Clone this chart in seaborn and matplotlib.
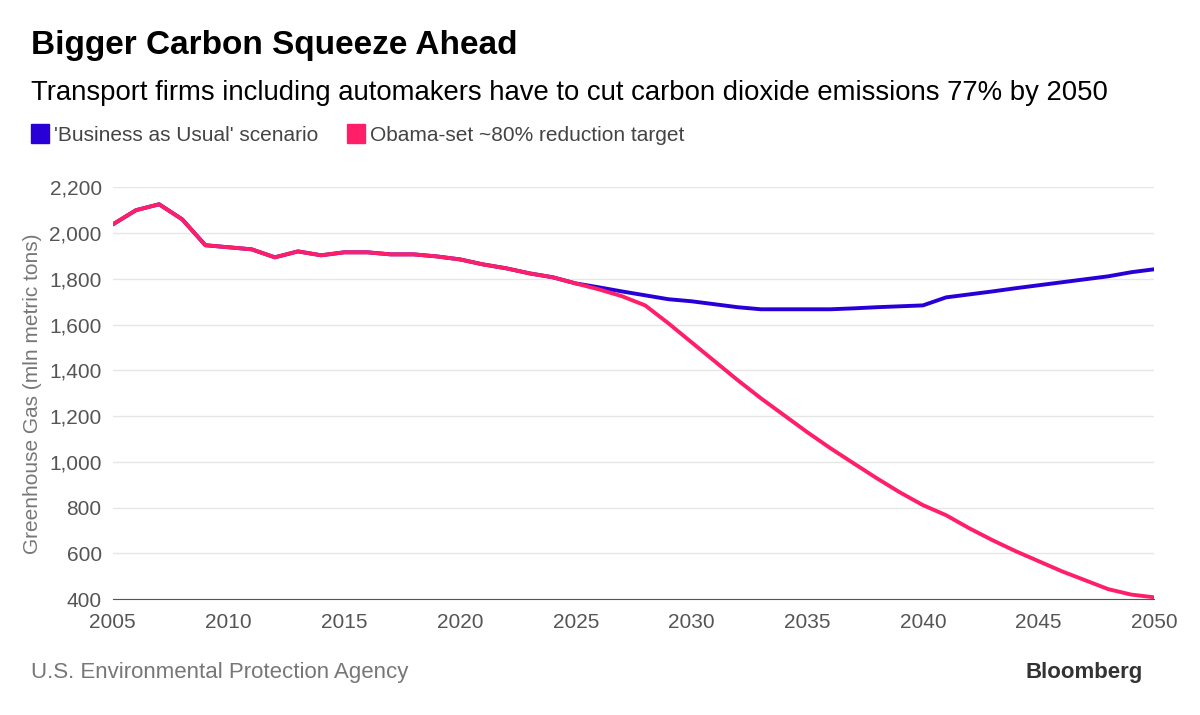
import numpy as np
import pandas as pd
import matplotlib.pyplot as plt
import seaborn as sns

years = list(range(2005, 2051))
history = [2038, 2100, 2126, 2060, 1947, 1938, 1929, 1894, 1920, 1903, 1916, 1916,
           1907, 1907, 1898, 1885, 1863, 1846, 1824, 1807, 1780]
bau_future = [1763, 1745, 1728, 1711, 1702, 1689, 1676, 1667, 1667, 1667, 1667, 1671,
              1676, 1680, 1684, 1719, 1732, 1745, 1759, 1772, 1785, 1798, 1811, 1829, 1842]
obama_future = [1754, 1724, 1684, 1606, 1523, 1440, 1357, 1278, 1204, 1130, 1060, 994,
                929, 867, 811, 767, 710, 658, 610, 566, 522, 483, 444, 420, 408]
series_names = ["'Business as Usual' scenario", "Obama-set ~80% reduction target"]
colors = ["#2800d7", "#ff1f69"]

df = pd.concat([
    pd.DataFrame({"year": years, "value": history + bau_future, "series": series_names[0]}),
    pd.DataFrame({"year": years, "value": history + obama_future, "series": series_names[1]}),
])

sns.set_style("white")
plt.rcParams['font.family'] = ['Liberation Sans', 'DejaVu Sans']
fig = plt.figure(figsize=(12, 7.15), dpi=100)
ax = fig.add_axes([0.094, 0.162, 0.868, 0.576])
sns.lineplot(data=df, x="year", y="value", hue="series", palette=colors, linewidth=2.8,
             legend=False, ax=ax)

ax.set_xlim(2005, 2050)
ax.set_ylim(400, 2200)
ax.set_xticks(range(2005, 2051, 5))
ax.set_yticks(range(400, 2201, 200))
ax.set_yticklabels([f"{v:,}" for v in range(400, 2201, 200)])
ax.yaxis.grid(True, color="#e6e6e6", linewidth=1)
ax.tick_params(axis="both", labelsize=15, colors="#555555", length=0, pad=8)
ax.tick_params(axis="x", length=6, color="#888888", direction="out", pad=4)
for s in ["top", "right", "left"]:
    ax.spines[s].set_visible(False)
ax.spines["bottom"].set_color("#555555")
ax.set_xlabel("")
ax.set_ylabel("Greenhouse Gas (mln metric tons)", fontsize=15, color="#777777")
ax.yaxis.set_label_coords(-0.068, 0.5)

fig.text(0.026, 0.925, "Bigger Carbon Squeeze Ahead", fontsize=24, fontweight="bold", color="black")
fig.text(0.026, 0.86, "Transport firms including automakers have to cut carbon dioxide emissions 77% by 2050",
         fontsize=19.8, color="black")
fig.patches.append(plt.Rectangle((0.026, 0.8), 0.015, 0.026, color=colors[0], transform=fig.transFigure))
fig.text(0.045, 0.803, series_names[0], fontsize=15, color="#444444")
fig.patches.append(plt.Rectangle((0.289, 0.8), 0.015, 0.026, color=colors[1], transform=fig.transFigure))
fig.text(0.308, 0.803, series_names[1], fontsize=15, color="#444444")
fig.text(0.026, 0.052, "U.S. Environmental Protection Agency", fontsize=16, color="#777777")
fig.text(0.952, 0.052, "Bloomberg", fontsize=16, fontweight="bold", color="#333333", ha="right")

fig.savefig("out.png", dpi=100)
